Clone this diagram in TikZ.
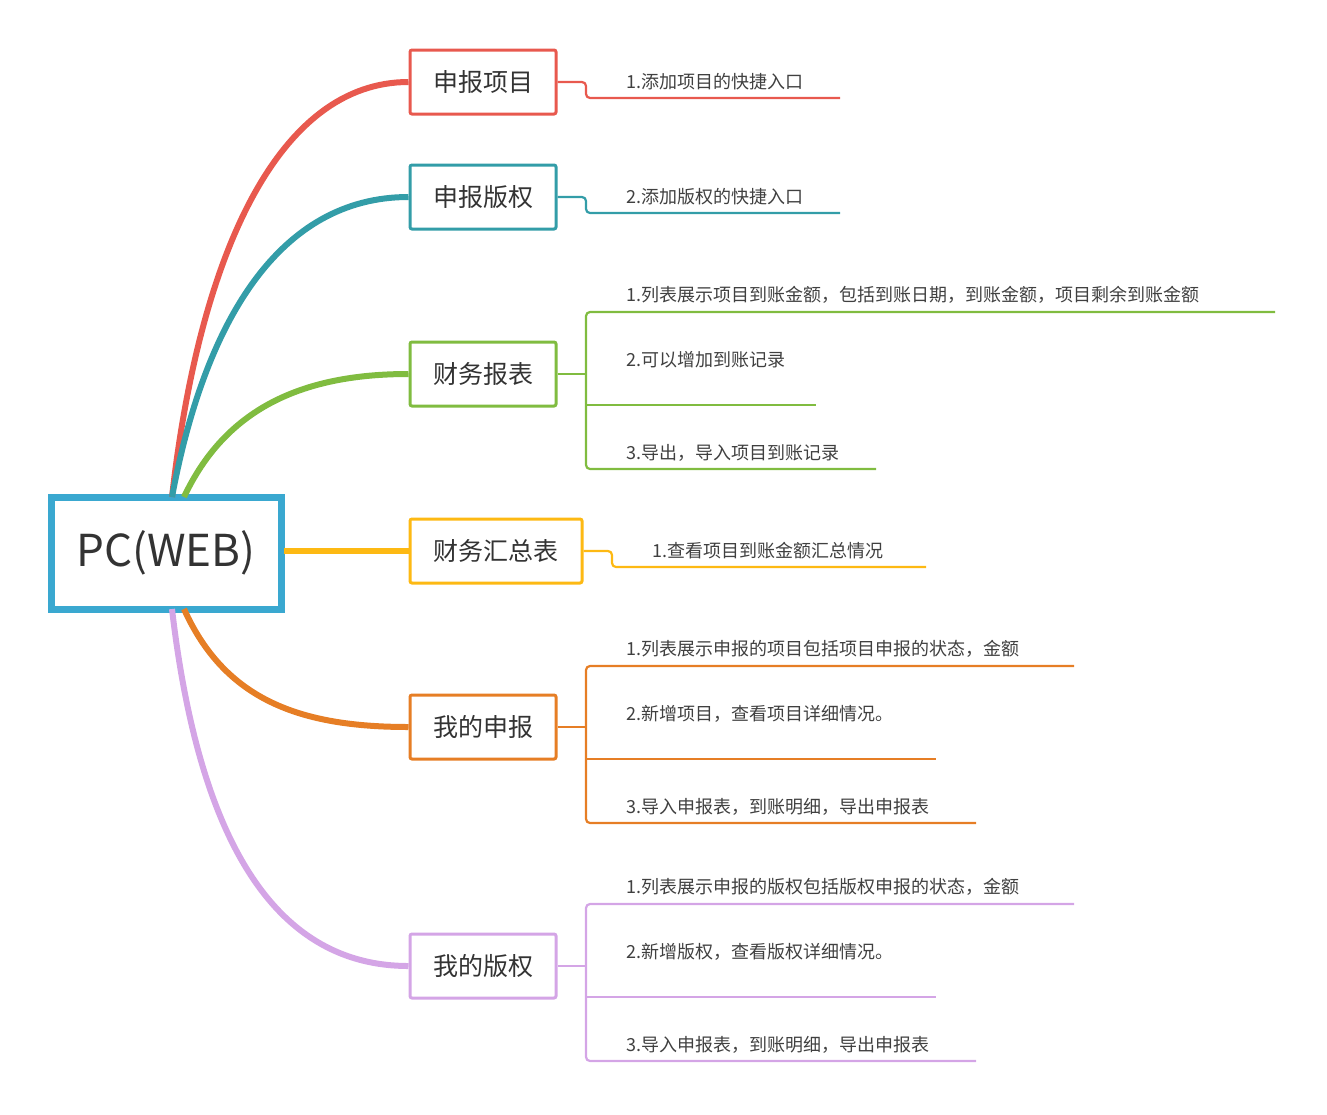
\documentclass[tikz,border=0pt]{standalone}
\usepackage{fontspec}
\setmainfont{Noto Sans CJK SC}
\begin{document}
\begin{tikzpicture}[x=1pt,y=-1pt,
 box/.style={draw=#1,line width=3pt,rounded corners=2pt,minimum height=64pt,inner sep=0pt,font=\fontsize{25}{28}\selectfont,text=black!80},
 leaf/.style={anchor=west,font=\fontsize{18}{20}\selectfont,text=black!75,inner sep=0pt},
 ln/.style={draw=#1,line width=2.2pt,rounded corners=4pt},
 br/.style={draw=#1,line width=6pt}]
\definecolor{cr}{HTML}{E8594E}\definecolor{ct}{HTML}{339DA8}\definecolor{cg}{HTML}{80BC40}
\definecolor{cy}{HTML}{FDB913}\definecolor{co}{HTML}{E67E25}\definecolor{cp}{HTML}{D4A5E6}\definecolor{cb}{HTML}{3AA8D0}
\useasboundingbox (0,0) rectangle (1327,1114);
\node[draw=cb,line width=7pt,minimum width=230pt,minimum height=112pt,inner sep=0pt,font=\fontsize{44}{48}\selectfont,text=black!80] (root) at (166,553) {PC(WEB)};
\coordinate (rt) at (172,497); \coordinate (rb) at (172,609); \coordinate (rr) at (284,551);
\node[box=cr,minimum width=146pt] (b1) at (483,82) {申报项目};
\node[box=ct,minimum width=146pt] (b2) at (483,197) {申报版权};
\node[box=cg,minimum width=146pt] (b3) at (483,374) {财务报表};
\node[box=cy,minimum width=172pt] (b4) at (496,551) {财务汇总表};
\node[box=co,minimum width=146pt] (b5) at (483,727) {我的申报};
\node[box=cp,minimum width=146pt] (b6) at (483,966) {我的版权};
\draw[br=cr] (rt) .. controls (200,250) and (280,82) .. (b1.west);
\draw[br=ct] (rt) .. controls (205,320) and (280,197) .. (b2.west);
\draw[br=cg] (184,497) .. controls (225,410) and (300,374) .. (b3.west);
\draw[br=cy] (rr) -- (b4.west);
\draw[br=co] (184,609) .. controls (225,700) and (300,727) .. (b5.west);
\draw[br=cp] (rb) .. controls (200,850) and (280,966) .. (b6.west);
% leaves
\draw[ln=cr] (b1.east) -- (586,82) -- (586,98) -- (840,98);
\node[leaf] (l11) at (626,82) {1.添加项目的快捷入口};
\draw[ln=ct] (b2.east) -- (586,197) -- (586,213) -- (840,213);
\node[leaf] (l21) at (626,197) {2.添加版权的快捷入口};
\draw[ln=cg] (b3.east) -- (586,374);
\draw[ln=cg] (1275,312) -- (586,312) -- (586,469) -- (876,469);
\draw[ln=cg] (586,405) -- (816,405);
\node[leaf] at (626,295) {1.列表展示项目到账金额，包括到账日期，到账金额，项目剩余到账金额};
\node[leaf] at (626,360) {2.可以增加到账记录};
\node[leaf] at (626,453) {3.导出，导入项目到账记录};
\draw[ln=cy] (b4.east) -- (612,551) -- (612,567) -- (926,567);
\node[leaf] at (652,551) {1.查看项目到账金额汇总情况};
\draw[ln=co] (b5.east) -- (586,727);
\draw[ln=co] (1074,666) -- (586,666) -- (586,823) -- (976,823);
\draw[ln=co] (586,759) -- (936,759);
\node[leaf] at (626,649) {1.列表展示申报的项目包括项目申报的状态，金额};
\node[leaf] at (626,714) {2.新增项目，查看项目详细情况。};
\node[leaf] at (626,807) {3.导入申报表，到账明细，导出申报表};
\draw[ln=cp] (b6.east) -- (586,966);
\draw[ln=cp] (1074,904) -- (586,904) -- (586,1061) -- (976,1061);
\draw[ln=cp] (586,997) -- (936,997);
\node[leaf] at (626,887) {1.列表展示申报的版权包括版权申报的状态，金额};
\node[leaf] at (626,952) {2.新增版权，查看版权详细情况。};
\node[leaf] at (626,1045) {3.导入申报表，到账明细，导出申报表};
\end{tikzpicture}
\end{document}
